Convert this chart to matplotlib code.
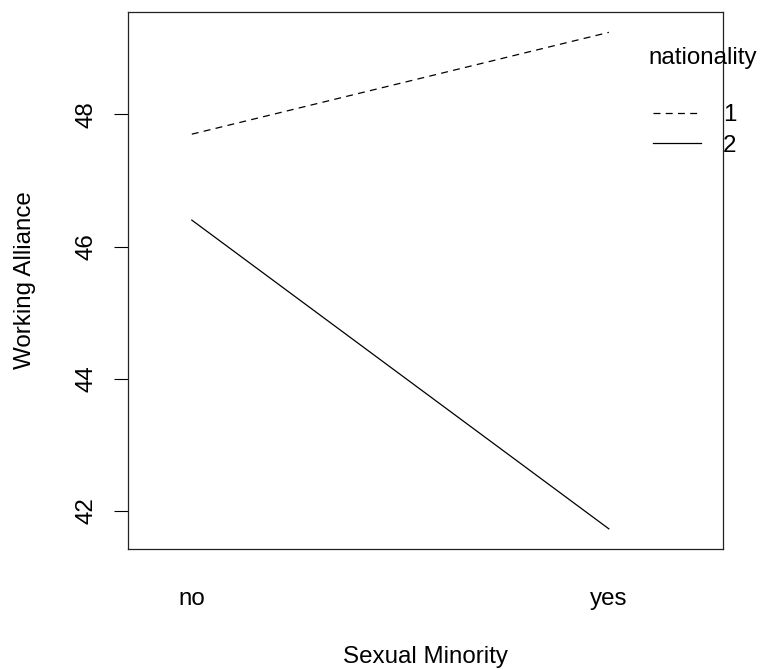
import matplotlib
matplotlib.use("Agg")
import matplotlib.pyplot as plt

# Data
categories = ["no", "yes"]
series_labels = ["1", "2"]
series_values = {
    "1": [47.70, 49.24],
    "2": [46.40, 41.73],
}
yticks = [42, 44, 46, 48]
line_styles = {"1": (0, (5.0, 3.8)), "2": "-"}

plt.rcParams["font.family"] = ["Liberation Sans", "DejaVu Sans"]
plt.rcParams["lines.scale_dashes"] = False
FS = 17.4

fig = plt.figure(figsize=(7.6, 6.7), dpi=100)
ax = fig.add_axes([128 / 760, 1 - 549 / 670, (722.7 - 128) / 760, (549 - 12) / 670])

x = list(range(1, len(categories) + 1))
handles = []
for lab in series_labels:
    h, = ax.plot(x, series_values[lab], color="black", lw=0.9, linestyle=line_styles[lab], label=lab)
    handles.append(h)

ax.set_xlim(0.847, 2.273)
ax.set_ylim(41.425, 49.548)

ax.set_xticks(x)
ax.set_xticklabels(categories, fontsize=FS)
ax.tick_params(axis="x", length=0, pad=28)
ax.set_yticks(yticks)
ax.set_yticklabels([str(t) for t in yticks], fontsize=FS, rotation=90, va="center")
ax.tick_params(axis="y", length=10, width=0.8, pad=12)

for s in ax.spines.values():
    s.set_linewidth(0.9)
    s.set_color("#222222")

ax.set_xlabel("Sexual Minority", fontsize=FS, va="center")
ax.xaxis.set_label_coords(0.5, (549 - 657) / 537)
ax.set_ylabel("Working Alliance", fontsize=FS, va="center")
ax.yaxis.set_label_coords((25 - 128) / 594.7, 0.5)

leg = fig.legend(handles=handles, labels=series_labels, loc="upper left",
                 bbox_to_anchor=(653 / 760, 1 - 104 / 670), frameon=False,
                 fontsize=FS, borderpad=0, borderaxespad=0, handlelength=2.0,
                 handletextpad=0.9, labelspacing=0.37)
fig.text(648 / 760, 1 - 58 / 670, "nationality", fontsize=FS, ha="left", va="center")

fig.savefig("out.png", dpi=100)
